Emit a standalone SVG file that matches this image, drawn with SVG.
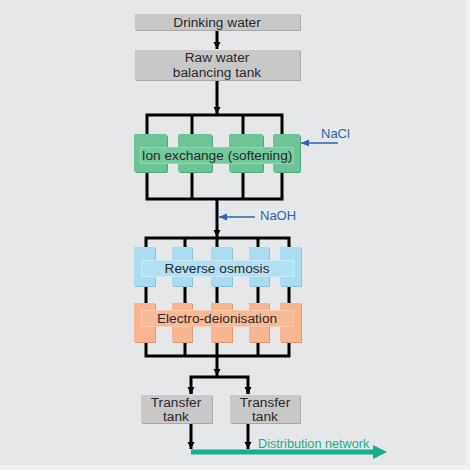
<svg xmlns="http://www.w3.org/2000/svg" width="470" height="470" viewBox="0 0 470 470">
<defs>
<style>
.t{font-family:"Liberation Sans",Arial,sans-serif;font-size:13.7px;fill:#2a2a2a;text-anchor:middle}
.b{font-family:"Liberation Sans",Arial,sans-serif;font-size:13px;fill:#2f62b0}
.ln{stroke:#000;stroke-width:3;fill:none}
.bl{stroke:#2f62b0;stroke-width:1.6;fill:none}
.gray{fill:#c8c8c8}
.sh{fill:#a9a9a9}
.gr{fill:#6cc497}
.grs{fill:#52a87c}
.grl{fill:#74c99d;stroke:#92d4b2;stroke-width:1}
.bu{fill:#a9dcf0}
.bus{fill:#8ec3da}
.bul{fill:#b0e0f2;stroke:#c8eaf7;stroke-width:1}
.or{fill:#f9b490}
.ors{fill:#de9975}
.orl{fill:#fab995;stroke:#fccbb0;stroke-width:1}
</style>
<marker id="ah" markerUnits="userSpaceOnUse" markerWidth="8" markerHeight="8" refX="7" refY="4" orient="auto"><path d="M0,0.5 L7,4 L0,7.5 Z" fill="#000"/></marker>
<marker id="ahb" markerUnits="userSpaceOnUse" markerWidth="9" markerHeight="8" refX="8" refY="4" orient="auto"><path d="M0,0.5 L8,4 L0,7.5 Z" fill="#2f62b0"/></marker>
</defs>
<rect x="0" y="0" width="470" height="470" fill="#f1f1f1"/>
<rect x="0" y="0" width="466" height="465" fill="#e6e7e8"/>

<g id="connectors">
<line class="ln" x1="217" y1="30" x2="217" y2="49" marker-end="url(#ah)"/>
<line class="ln" x1="217" y1="80" x2="217" y2="114" marker-end="url(#ah)"/>
<rect class="ln" x="147" y="115" width="135" height="84"/>
<line class="ln" x1="192" y1="115" x2="192" y2="199"/>
<line class="ln" x1="243" y1="115" x2="243" y2="199"/>
<line class="ln" x1="217" y1="199" x2="217" y2="237" marker-end="url(#ah)"/>
<line class="bl" x1="338" y1="143" x2="301" y2="143" marker-end="url(#ahb)"/>
<line class="bl" x1="255" y1="217" x2="219" y2="217" marker-end="url(#ahb)"/>
<path class="ln" d="M146,356 V238 H289 V356 Z"/>
<line class="ln" x1="185" y1="238" x2="185" y2="356"/>
<line class="ln" x1="217" y1="238" x2="217" y2="356"/>
<line class="ln" x1="258" y1="238" x2="258" y2="356"/>
<line class="ln" x1="217" y1="356" x2="217" y2="376" marker-end="url(#ah)"/>
<path class="ln" d="M191,394 V377 H248 V394"/>
<line class="ln" x1="191" y1="390" x2="191" y2="394" marker-end="url(#ah)"/>
<line class="ln" x1="248" y1="390" x2="248" y2="394" marker-end="url(#ah)"/>
<line class="ln" x1="191" y1="423" x2="191" y2="449" marker-end="url(#ah)"/>
<line class="ln" x1="248" y1="423" x2="248" y2="449" marker-end="url(#ah)"/>
</g>

<g id="drinking-water">
<rect class="sh" x="136" y="15" width="165" height="16"/>
<rect class="gray" x="135" y="14" width="165" height="16"/>
<text class="t" x="217" y="27">Drinking water</text>
</g>

<g id="raw-water-balancing-tank">
<rect class="sh" x="136" y="51" width="165" height="30"/>
<rect class="gray" x="135" y="50" width="165" height="30"/>
<text class="t" x="217" y="62">Raw water</text>
<text class="t" x="217" y="77">balancing tank</text>
</g>

<g id="ion-exchange">
<rect class="grs" x="135" y="135" width="33" height="38" rx="2"/>
<rect class="gr" x="134" y="134" width="33" height="38" rx="2"/>
<rect class="grs" x="179" y="135" width="34" height="38" rx="2"/>
<rect class="gr" x="178" y="134" width="34" height="38" rx="2"/>
<rect class="grs" x="230" y="135" width="34" height="38" rx="2"/>
<rect class="gr" x="229" y="134" width="34" height="38" rx="2"/>
<rect class="grs" x="274" y="135" width="27" height="38" rx="2"/>
<rect class="gr" x="273" y="134" width="27" height="38" rx="2"/>
<rect class="grl" x="140.5" y="147.5" width="153" height="16"/>
<text class="t" x="217" y="160">Ion exchange (softening)</text>
</g>

<g id="nacl">
<text class="b" x="321" y="138">NaCl</text>
</g>

<g id="naoh">
<text class="b" x="260" y="220">NaOH</text>
</g>

<g id="reverse-osmosis">
<rect class="bus" x="135" y="248" width="21" height="39"/>
<rect class="bu" x="134" y="247" width="21" height="39"/>
<rect class="bus" x="173" y="248" width="20" height="39"/>
<rect class="bu" x="172" y="247" width="20" height="39"/>
<rect class="bus" x="212" y="248" width="21" height="39"/>
<rect class="bu" x="211" y="247" width="21" height="39"/>
<rect class="bus" x="250" y="248" width="20" height="39"/>
<rect class="bu" x="249" y="247" width="20" height="39"/>
<rect class="bus" x="281" y="248" width="21" height="39"/>
<rect class="bu" x="280" y="247" width="21" height="39"/>
<rect class="bul" x="141.5" y="260.5" width="152" height="16"/>
<text class="t" x="217" y="273">Reverse osmosis</text>
</g>

<g id="electro-deionisation">
<rect class="ors" x="135" y="304" width="21" height="39"/>
<rect class="or" x="134" y="303" width="21" height="39"/>
<rect class="ors" x="173" y="304" width="20" height="39"/>
<rect class="or" x="172" y="303" width="20" height="39"/>
<rect class="ors" x="212" y="304" width="21" height="39"/>
<rect class="or" x="211" y="303" width="21" height="39"/>
<rect class="ors" x="250" y="304" width="20" height="39"/>
<rect class="or" x="249" y="303" width="20" height="39"/>
<rect class="ors" x="281" y="304" width="21" height="39"/>
<rect class="or" x="280" y="303" width="21" height="39"/>
<rect class="orl" x="141.5" y="310.5" width="152" height="16"/>
<text class="t" x="217" y="323">Electro-deionisation</text>
</g>

<g id="transfer-tank-1">
<rect class="sh" x="142" y="396" width="71" height="28"/>
<rect class="gray" x="141" y="395" width="71" height="28"/>
<text class="t" x="176" y="407">Transfer</text>
<text class="t" x="176" y="421">tank</text>
</g>

<g id="transfer-tank-2">
<rect class="sh" x="231" y="396" width="70" height="28"/>
<rect class="gray" x="230" y="395" width="70" height="28"/>
<text class="t" x="265" y="407">Transfer</text>
<text class="t" x="265" y="421">tank</text>
</g>

<g id="distribution-network">
<path d="M191,449.5 H373 V445 L387,452 L373,459 V454.5 H191 Z" fill="#18b08c"/>
<text x="258" y="448" font-family="'Liberation Sans',Arial,sans-serif" font-size="12.7" fill="#18b08c">Distribution network</text>
</g>
</svg>
